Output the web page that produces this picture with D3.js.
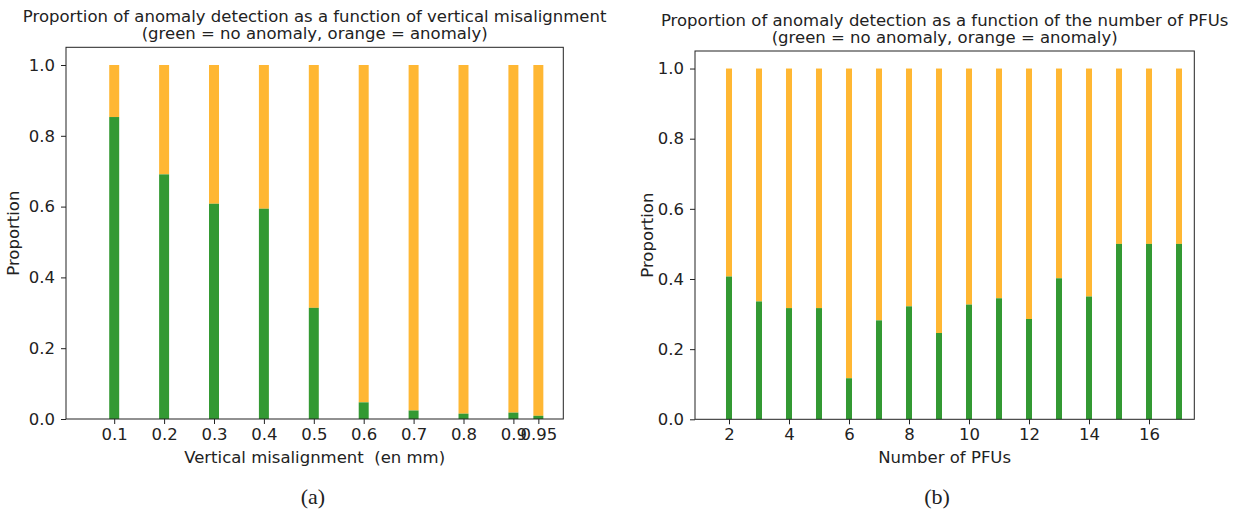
<!DOCTYPE html>
<html>
<head>
<meta charset="utf-8">
<script src="https://cdn.jsdelivr.net/npm/d3@7"></script>
<style>
  body { margin: 0; background: #fff; }
  text { font-family: "DejaVu Sans", sans-serif; fill: #222; white-space: pre; }
</style>
</head>
<body>
<script>
// panel (a): vertical misalignment
var misalign = [0.1, 0.2, 0.3, 0.4, 0.5, 0.6, 0.7, 0.8, 0.9, 0.95]
var misalignOk = [0.853, 0.691, 0.608, 0.594, 0.314, 0.047, 0.024, 0.015, 0.018, 0.009]
var misalignTicks = [0.1, 0.2, 0.3, 0.4, 0.5, 0.6, 0.7, 0.8, 0.9, 0.95]

// panel (b): number of PFUs
var pfus = [2, 3, 4, 5, 6, 7, 8, 9, 10, 11, 12, 13, 14, 15, 16, 17]
var pfusOk = [0.407, 0.336, 0.317, 0.317, 0.117, 0.282, 0.322, 0.246, 0.327, 0.345, 0.286, 0.402, 0.350, 0.5, 0.5, 0.5]
var pfusTicks = [2, 4, 6, 8, 10, 12, 14, 16]

var yTicks = [0, 0.2, 0.4, 0.6, 0.8, 1.0]

var green = "#339933", orange = "#ffb733"
var fs = "16.5px"

var w = 1237, h = 514
var svg = d3.select("body").append("svg").attr("width", w).attr("height", h)

function drawPanel(p) {
  var x = d3.scaleLinear().domain(p.xDomain).range([p.left, p.right])
  var y = d3.scaleLinear().domain([0, 1.05]).range([p.bottom, p.top])
  var g = svg.append("g")

  var data = p.xs.map(function(v, i) { return {x: v, ok: p.ok[i]} })

  // anomaly part (stacked on top)
  g.selectAll("rect.anom").data(data).enter().append("rect")
    .attr("x", function(d) { return x(d.x - p.barW / 2) })
    .attr("width", function(d) { return x(d.x + p.barW / 2) - x(d.x - p.barW / 2) })
    .attr("y", y(1))
    .attr("height", function(d) { return y(d.ok) - y(1) })
    .style("fill", orange)

  g.selectAll("rect.ok").data(data).enter().append("rect")
    .attr("x", function(d) { return x(d.x - p.barW / 2) })
    .attr("width", function(d) { return x(d.x + p.barW / 2) - x(d.x - p.barW / 2) })
    .attr("y", function(d) { return y(d.ok) })
    .attr("height", function(d) { return y(0) - y(d.ok) })
    .style("fill", green)

  var xAxis = d3.axisBottom(x).tickValues(p.ticks).tickSize(5).tickPadding(4)
    .tickFormat(p.fmt)
  var gx = g.append("g").attr("transform", "translate(0," + p.bottom + ")").call(xAxis)
  var yAxis = d3.axisLeft(y).tickValues(yTicks).tickSize(5).tickPadding(6)
    .tickFormat(d3.format(".1f"))
  var gy = g.append("g").attr("transform", "translate(" + p.left + ",0)").call(yAxis)
  ;[gx, gy].forEach(function(a) {
    a.select(".domain").remove()
    a.selectAll("text").style("font-size", fs).style("font-family", "DejaVu Sans").style("fill", "#222")
    a.selectAll("line").style("stroke", "#222")
  })

  // frame
  g.append("rect").attr("x", p.left).attr("y", p.top)
    .attr("width", p.right - p.left).attr("height", p.bottom - p.top)
    .style("fill", "none").style("stroke", "#222").style("stroke-width", 1)

  var cx = (p.left + p.right) / 2
  g.append("text").attr("x", cx).attr("y", p.top - 25).attr("text-anchor", "middle")
    .style("font-size", fs).text(p.title)
  g.append("text").attr("x", cx).attr("y", p.top - 8).attr("text-anchor", "middle")
    .style("font-size", fs).text("(green = no anomaly, orange = anomaly)")
  g.append("text").attr("x", cx).attr("y", 463).attr("text-anchor", "middle")
    .style("font-size", fs).text(p.xlabel)
  g.append("text")
    .attr("transform", "translate(" + (p.left - p.ylabOff) + "," + ((p.top + p.bottom) / 2) + ") rotate(-90)")
    .attr("text-anchor", "middle").style("font-size", fs).text("Proportion")
  g.append("text").attr("x", p.capX).attr("y", 504).attr("text-anchor", "middle")
    .style("font-family", "'Liberation Serif', serif").style("font-size", "22px").text(p.caption)
}

drawPanel({
  xs: misalign, ok: misalignOk, ticks: misalignTicks, barW: 0.02,
  xDomain: [0.0034, 1.0], left: 66, right: 563.3, top: 47.3, bottom: 419,
  fmt: function(d) { return String(d) }, ylabOff: 47,
  title: "Proportion of anomaly detection as a function of vertical misalignment",
  xlabel: "Vertical misalignment  (en mm)", caption: "(a)", capX: 313
})

drawPanel({
  xs: pfus, ok: pfusOk, ticks: pfusTicks, barW: 0.2,
  xDomain: [0.867, 17.51], left: 695, right: 1194.3, top: 51, bottom: 419.3,
  fmt: function(d) { return String(d) }, ylabOff: 42,
  title: "Proportion of anomaly detection as a function of the number of PFUs",
  xlabel: "Number of PFUs", caption: "(b)", capX: 937
})
</script>
</body>
</html>
